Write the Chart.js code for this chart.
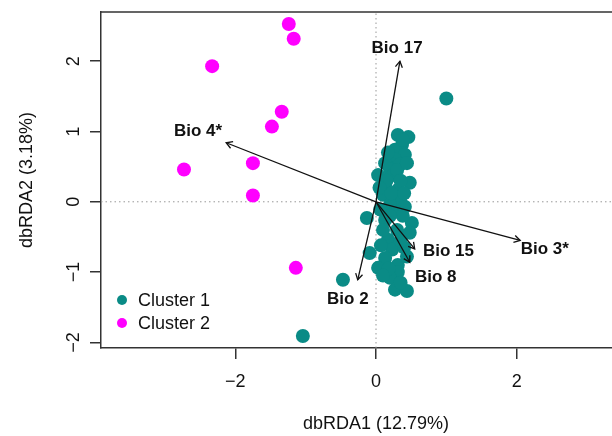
<!DOCTYPE html>
<html>
<head>
<meta charset="utf-8">
<script src="https://cdn.jsdelivr.net/npm/chart.js@4.4.1/dist/chart.umd.min.js"></script>
<style>
  html, body { margin: 0; padding: 0; background: #fff; overflow: hidden; }
  #wrap { width: 660px; height: 436px; }
</style>
</head>
<body>
<div id="wrap"><canvas id="rdaChart" width="660" height="436"></canvas></div>
<script>
// axis limits and ticks
var xLimits = [-3.91, 3.91];
var yLimits = [-2.08, 2.70];
var xTickValues = [-2, 0, 2];
var yTickValues = [-2, -1, 0, 1, 2];

// site scores
var cluster1X = [1.00, -0.47, -1.04, 0.31, 0.46, 0.37, 0.27, 0.41, 0.27, 0.13, 0.34, 0.20, 0.03,
    0.24, 0.48, 0.13, 0.31, 0.10, 0.34, 0.20, 0.41, 0.27, 0.06, -0.13, 0.13, 0.51, 0.30, 0.48,
    0.17, 0.23, 0.40, -0.09, 0.13, 0.31, 0.03, 0.31, 0.20, 0.27, 0.44,
    0.17, 0.38, 0.30, 0.15, 0.35, 0.44, 0.05, 0.22, 0.40,
    0.10, 0.38, 0.20, 0.35, 0.07, 0.18, 0.35, 0.10, 0.44];
var cluster1Y = [1.47, -1.11, -1.91, 0.95, 0.92, 0.81, 0.74, 0.67, 0.60, 0.55, 0.53, 0.46, 0.38,
    0.38, 0.27, 0.24, 0.17, 0.10, 0.03, -0.04, -0.07, -0.14, -0.11, -0.23, -0.26, -0.30, -0.40, -0.44,
    -0.54, -0.68, -0.65, -0.73, -0.80, -0.90, -0.94, -1.00, -1.08, -1.25, -1.27,
    0.70, 0.88, 0.45, 0.30, 0.30, 0.55, 0.20, 0.12, 0.12,
    -0.40, -0.20, -0.20, -0.55, -0.62, -0.95, -1.15, -1.05, -0.78];
var cluster2X = [-1.24, -1.17, -2.33, -1.34, -1.48, -2.73, -1.75, -1.75, -1.14];
var cluster2Y = [2.53, 2.32, 1.93, 1.28, 1.07, 0.46, 0.55, 0.09, -0.94];

// environmental vectors
var bioLabels = ['Bio 17', 'Bio 4*', 'Bio 3*', 'Bio 15', 'Bio 8', 'Bio 2'];
var bioX = [0.34, -2.13, 2.05, 0.55, 0.48, -0.26];
var bioY = [2.00, 0.84, -0.55, -0.67, -0.86, -1.11];
var bioLabelX = [0.30, -2.53, 2.40, 1.03, 0.85, -0.40];
var bioLabelY = [2.19, 1.00, -0.67, -0.71, -1.07, -1.39];

var legendLabels = ['Cluster 1', 'Cluster 2'];
var clusterColors = ['#0A8B86', '#FF00FF'];

var FONT = '"Liberation Sans", Arial, Helvetica, sans-serif';

function toPoints(xs, ys) {
    return xs.map(function (x, i) { return { x: x, y: ys[i] }; });
}

function minusLabel(v) {
    return v < 0 ? '\u2212' + Math.abs(v) : String(v);
}

var datasets = [];

// arrows (shafts)
bioX.forEach(function (x, i) {
    datasets.push({
        type: 'line',
        data: [{ x: 0, y: 0 }, { x: x, y: bioY[i] }],
        borderColor: '#111',
        borderWidth: 1.3,
        pointRadius: 0,
        fill: false,
        order: 0
    });
});

datasets.push({
    type: 'scatter',
    label: legendLabels[0],
    data: toPoints(cluster1X, cluster1Y),
    backgroundColor: clusterColors[0],
    borderWidth: 0,
    pointRadius: 7,
    order: 1
});
datasets.push({
    type: 'scatter',
    label: legendLabels[1],
    data: toPoints(cluster2X, cluster2Y),
    backgroundColor: clusterColors[1],
    borderWidth: 0,
    pointRadius: 7,
    order: 1
});

// dotted zero lines
datasets.push({
    type: 'line',
    data: [{ x: xLimits[0], y: 0 }, { x: xLimits[1], y: 0 }],
    borderColor: '#999',
    borderWidth: 1,
    borderDash: [1.5, 3],
    pointRadius: 0,
    order: 2
});
datasets.push({
    type: 'line',
    data: [{ x: 0, y: yLimits[0] }, { x: 0, y: yLimits[1] }],
    borderColor: '#999',
    borderWidth: 1,
    borderDash: [1.5, 3],
    pointRadius: 0,
    order: 2
});

var extras = {
    id: 'extras',
    afterDatasetsDraw: function (chart) {
        var ctx = chart.ctx;
        var xs = chart.scales.x, ys = chart.scales.y;
        var area = chart.chartArea;
        var ox = xs.getPixelForValue(0), oy = ys.getPixelForValue(0);

        ctx.save();
        // arrow heads
        ctx.strokeStyle = '#111';
        ctx.lineWidth = 1.3;
        bioX.forEach(function (x, i) {
            var tx = xs.getPixelForValue(x), ty = ys.getPixelForValue(bioY[i]);
            var ang = Math.atan2(ty - oy, tx - ox);
            var len = 7, spread = Math.PI / 6;
            ctx.beginPath();
            ctx.moveTo(tx - len * Math.cos(ang - spread), ty - len * Math.sin(ang - spread));
            ctx.lineTo(tx, ty);
            ctx.lineTo(tx - len * Math.cos(ang + spread), ty - len * Math.sin(ang + spread));
            ctx.stroke();
        });

        // vector labels
        ctx.fillStyle = '#111';
        ctx.font = 'bold 17px ' + FONT;
        ctx.textAlign = 'center';
        ctx.textBaseline = 'middle';
        bioLabels.forEach(function (lab, i) {
            ctx.fillText(lab, xs.getPixelForValue(bioLabelX[i]), ys.getPixelForValue(bioLabelY[i]));
        });

        // top and right sides of the box
        ctx.strokeStyle = '#333';
        ctx.lineWidth = 1.5;
        ctx.beginPath();
        ctx.moveTo(area.left, area.top);
        ctx.lineTo(area.right, area.top);
        ctx.lineTo(area.right, area.bottom);
        ctx.stroke();

        // legend
        ctx.font = '18px ' + FONT;
        ctx.textAlign = 'left';
        legendLabels.forEach(function (lab, i) {
            var ly = 300 + i * 23;
            ctx.fillStyle = clusterColors[i];
            ctx.beginPath();
            ctx.arc(122, ly, 5, 0, Math.PI * 2);
            ctx.fill();
            ctx.fillStyle = '#111';
            ctx.fillText(lab, 138, ly + 1);
        });
        ctx.restore();
    }
};

new Chart(document.getElementById('rdaChart'), {
    type: 'scatter',
    data: { datasets: datasets },
    plugins: [extras],
    options: {
        responsive: false,
        animation: false,
        events: [],
        layout: { padding: { top: 12, right: 9, left: 0, bottom: 0 } },
        plugins: {
            legend: { display: false },
            tooltip: { enabled: false }
        },
        scales: {
            x: {
                type: 'linear',
                min: xLimits[0],
                max: xLimits[1],
                afterBuildTicks: function (scale) {
                    scale.ticks = xTickValues.map(function (v) { return { value: v }; });
                },
                afterFit: function (scale) {
                    scale.height = 88;
                    scale.paddingLeft = 0;
                    scale.paddingRight = 0;
                },
                grid: {
                    drawOnChartArea: false,
                    drawTicks: true,
                    tickLength: 11,
                    color: '#333',
                    lineWidth: 1.5
                },
                border: { display: true, color: '#333', width: 1.5 },
                ticks: {
                    font: { family: FONT, size: 18 },
                    color: '#111',
                    padding: 12,
                    maxRotation: 0,
                    callback: minusLabel
                },
                title: {
                    display: true,
                    text: 'dbRDA1 (12.79%)',
                    font: { family: FONT, size: 18 },
                    color: '#111',
                    padding: { top: 0, bottom: 1 }
                }
            },
            y: {
                type: 'linear',
                min: yLimits[0],
                max: yLimits[1],
                afterBuildTicks: function (scale) {
                    scale.ticks = yTickValues.map(function (v) { return { value: v }; });
                },
                afterFit: function (scale) {
                    scale.width = 101;
                    scale.paddingTop = 0;
                    scale.paddingBottom = 0;
                },
                grid: {
                    drawOnChartArea: false,
                    drawTicks: true,
                    tickLength: 11,
                    color: '#333',
                    lineWidth: 1.5
                },
                border: { display: true, color: '#333', width: 1.5 },
                ticks: {
                    font: { family: FONT, size: 18 },
                    color: '#111',
                    padding: 6,
                    minRotation: 90,
                    maxRotation: 90,
                    crossAlign: 'center',
                    callback: minusLabel
                },
                title: {
                    display: true,
                    text: 'dbRDA2 (3.18%)',
                    font: { family: FONT, size: 18 },
                    color: '#111',
                    padding: { top: 16, bottom: 0 }
                }
            }
        }
    }
});
</script>
</body>
</html>
